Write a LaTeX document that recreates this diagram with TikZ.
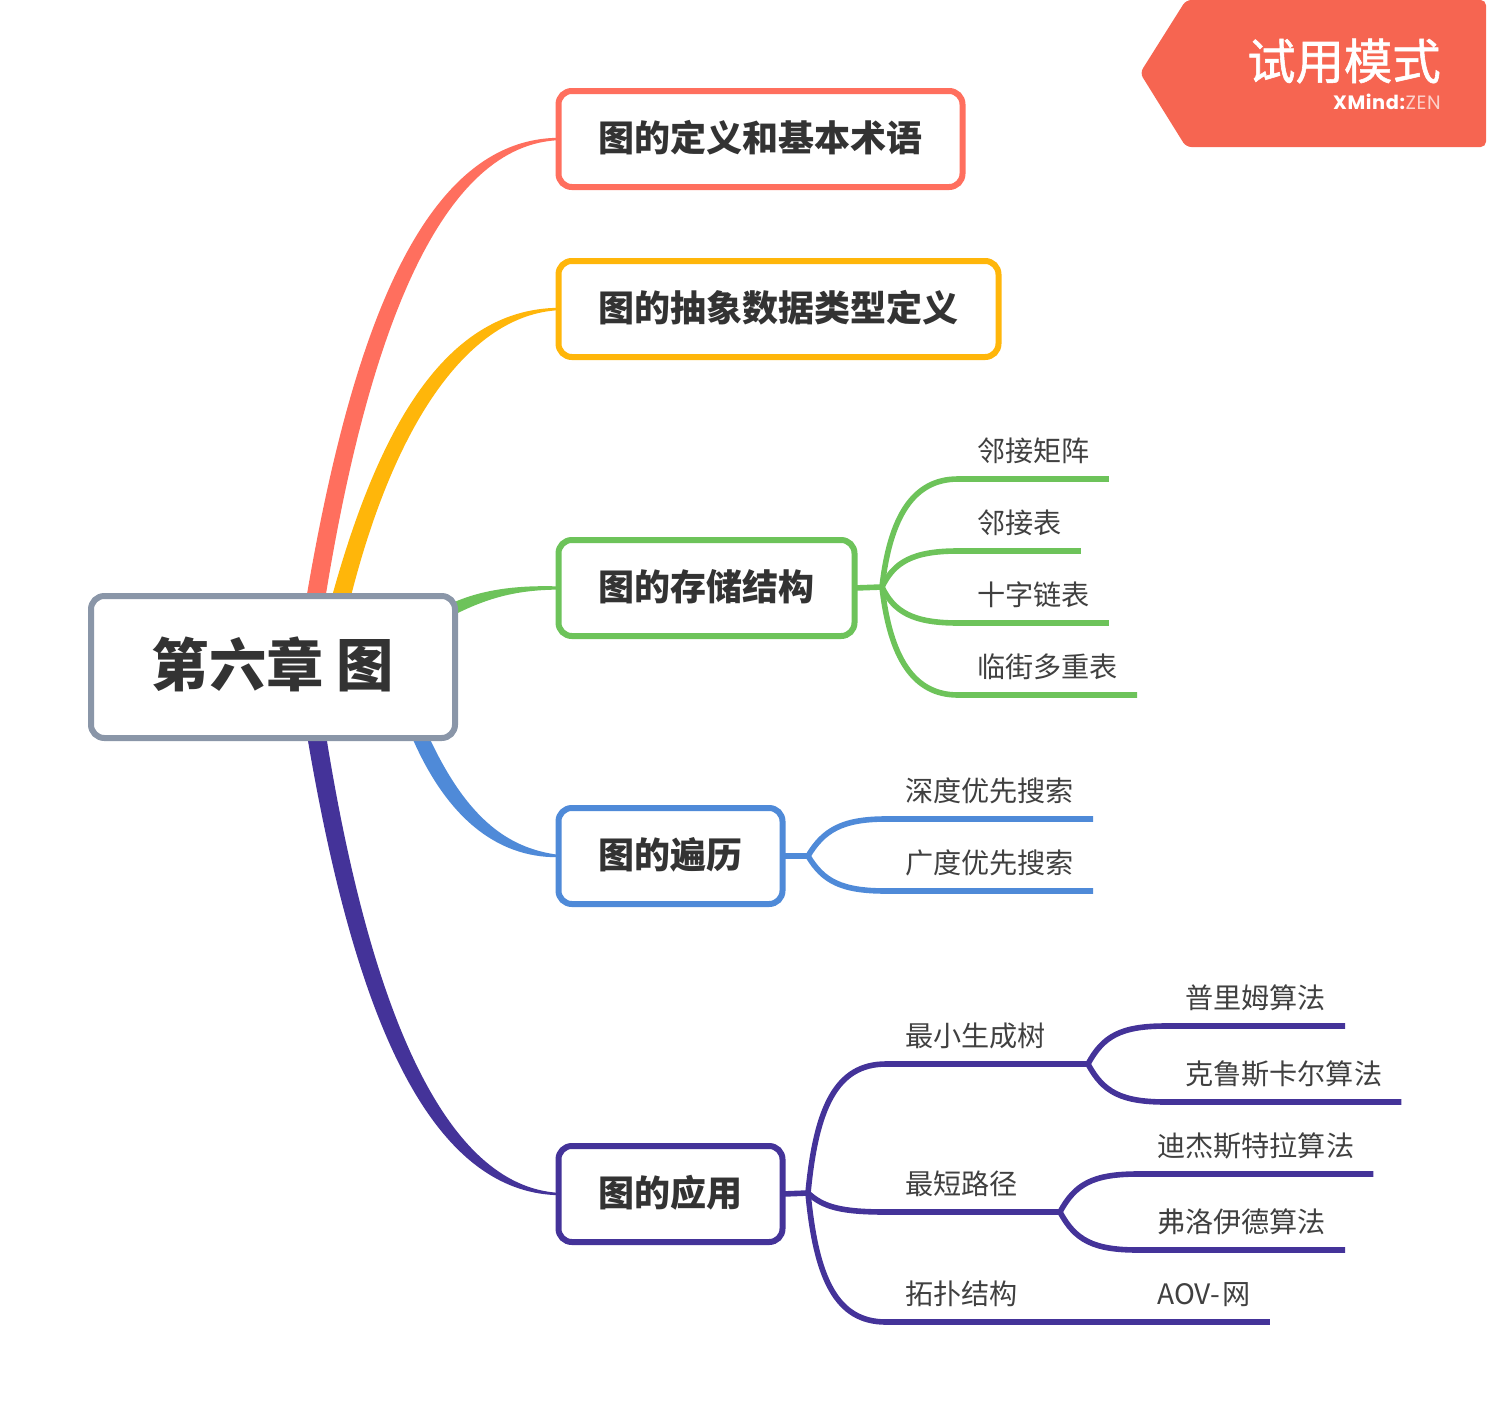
\documentclass[tikz,border=0pt]{standalone}
\usepackage{fontspec}
\setmainfont{Noto Sans CJK SC}
\newfontfamily\trialfont[FakeBold=1.2]{Noto Sans CJK SC}
\newfontfamily\markfont[LetterSpace=3]{Poppins}
\usetikzlibrary{backgrounds}
\definecolor{rootgray}{HTML}{8A96A8}
\definecolor{topicred}{HTML}{FF6F5E}
\definecolor{topicyellow}{HTML}{FFB60A}
\definecolor{topicgreen}{HTML}{6DC35A}
\definecolor{topicblue}{HTML}{4F8AD8}
\definecolor{topicpurple}{HTML}{443399}
\definecolor{trialred}{HTML}{F66551}
\tikzset{
	rootbox/.style={draw=rootgray, fill=white, line width=4.5pt, rounded corners=10pt, outer sep=0pt,
		minimum width=273pt, minimum height=106.5pt, text=black!80,
		font=\fontsize{43}{50}\selectfont\bfseries, text height=35.5pt, text depth=6.5pt},
	topicbox/.style={draw=#1, fill=white, line width=4.5pt, rounded corners=10pt, outer sep=0pt,
		anchor=west, inner xsep=30pt, minimum height=72pt, text=black!80,
		font=\fontsize{27}{32}\selectfont\bfseries, text height=22.5pt, text depth=4.5pt},
	leaf/.style={anchor=south west, outer sep=0pt, inner xsep=14.4pt, inner ysep=8pt,
		text=black!75, font=\fontsize{21.1}{25}\selectfont, text height=16pt, text depth=5pt},
	branch/.style={draw=#1, line width=4.2pt, line join=round},
}
\begin{document}
\begin{tikzpicture}[x=0.75pt, y=-0.75pt]
	\useasboundingbox ( 0, 0 ) rectangle ( 1487, 1413 );

	% trial mark
	\fill [trialred, rounded corners=4pt] ( 1186, 0 ) -- ( 1486, 0 ) -- ( 1486, 147 ) -- ( 1186, 147 ) -- ( 1140, 73 ) -- cycle;
	\node [anchor=east, inner sep=0pt, text=white, font=\trialfont\fontsize{36.3}{42}\selectfont] (trial) at ( 1441, 61 ) {试用模式};
	\node [anchor=east, inner sep=0pt, text=white, font=\markfont\fontsize{14.5}{16}\selectfont] (brand) at ( 1441, 102 ) {\textbf{XMind:}\textcolor{white!70!trialred}{ZEN}};

	% root and topics
	\node [rootbox] (root) at ( 273, 667 ) {第六章 图};
	\node [topicbox=topicred] (define) at ( 558.5, 139 ) {图的定义和基本术语};
	\node [topicbox=topicyellow] (adt) at ( 558.5, 309 ) {图的抽象数据类型定义};
	\node [topicbox=topicgreen] (store) at ( 558.5, 588 ) {图的存储结构};
	\node [topicbox=topicblue] (walk) at ( 558.5, 856 ) {图的遍历};
	\node [topicbox=topicpurple] (apply) at ( 558.5, 1194 ) {图的应用};

	% tapered branches
	\begin{scope}[on background layer]
		\fill [topicred] ( 306, 600 ) .. controls ( 350, 340 ) and ( 420, 139 ) .. ([yshift=0.9pt]define.west)
			-- ([yshift=-0.9pt]define.west) .. controls ( 445, 145 ) and ( 370, 320 ) .. ( 325, 600 ) -- cycle;
		\fill [topicyellow] ( 331, 600 ) .. controls ( 375, 440 ) and ( 440, 309 ) .. ([yshift=0.9pt]adt.west)
			-- ([yshift=-0.9pt]adt.west) .. controls ( 470, 315 ) and ( 395, 420 ) .. ( 350, 600 ) -- cycle;
		\fill [topicgreen] ( 450, 604 ) .. controls ( 480, 590 ) and ( 515, 585 ) .. ([yshift=1.2pt]store.west)
			-- ([yshift=-1.2pt]store.west) .. controls ( 520, 590 ) and ( 490, 596 ) .. ( 450, 617 ) -- cycle;
		\fill [topicblue] ( 411, 735 ) .. controls ( 445, 815 ) and ( 495, 858 ) .. ([yshift=-0.9pt]walk.west)
			-- ([yshift=0.9pt]walk.west) .. controls ( 505, 848 ) and ( 465, 815 ) .. ( 428, 735 ) -- cycle;
		\fill [topicpurple] ( 307, 735 ) .. controls ( 350, 990 ) and ( 420, 1192 ) .. ([yshift=-0.9pt]apply.west)
			-- ([yshift=0.9pt]apply.west) .. controls ( 445, 1186 ) and ( 370, 1010 ) .. ( 326, 735 ) -- cycle;
	\end{scope}

	% forks
	\coordinate (storefork) at ( 882, 587 );
	\coordinate (walkfork) at ( 808, 856 );
	\coordinate (applyfork) at ( 808, 1193 );
	\coordinate (treefork) at ( 1088, 1064 );
	\coordinate (pathfork) at ( 1060, 1212 );
	\coordinate (topofork) at ( 1060, 1322 );

	% storage
	\node [leaf] (matrix) at ( 958, 479 ) {邻接矩阵};
	\node [leaf] (adjlist) at ( 958, 551 ) {邻接表};
	\node [leaf] (cross) at ( 958, 623 ) {十字链表};
	\node [leaf] (multi) at ( 958, 695 ) {临街多重表};
	\draw [branch=topicgreen] (store.east) -- (storefork);
	\draw [branch=topicgreen] (storefork) .. controls +( 8, -70 ) and +( -45, 0 ) .. (matrix.south west) -- (matrix.south east);
	\draw [branch=topicgreen] (storefork) .. controls +( 12, -25 ) and +( -45, 0 ) .. (adjlist.south west) -- (adjlist.south east);
	\draw [branch=topicgreen] (storefork) .. controls +( 12, 25 ) and +( -45, 0 ) .. (cross.south west) -- (cross.south east);
	\draw [branch=topicgreen] (storefork) .. controls +( 8, 70 ) and +( -45, 0 ) .. (multi.south west) -- (multi.south east);

	% traversal
	\node [leaf] (dfs) at ( 886, 819 ) {深度优先搜索};
	\node [leaf] (bfs) at ( 886, 891 ) {广度优先搜索};
	\draw [branch=topicblue] (walk.east) -- (walkfork);
	\draw [branch=topicblue] (walkfork) .. controls +( 15, -25 ) and +( -45, 0 ) .. (dfs.south west) -- (dfs.south east);
	\draw [branch=topicblue] (walkfork) .. controls +( 15, 25 ) and +( -45, 0 ) .. (bfs.south west) -- (bfs.south east);

	% applications
	\node [leaf] (tree) at ( 886, 1064 ) {最小生成树};
	\node [leaf] (short) at ( 886, 1212 ) {最短路径};
	\node [leaf] (topo) at ( 886, 1322 ) {拓扑结构};
	\draw [branch=topicpurple] (apply.east) -- (applyfork);
	\draw [branch=topicpurple] (applyfork) .. controls +( 8, -85 ) and +( -50, 0 ) .. (tree.south west) -- (tree.south east) -- (treefork);
	\draw [branch=topicpurple] (applyfork) .. controls +( 15, 14 ) and +( -45, 0 ) .. (short.south west) -- (short.south east) -- (pathfork);
	\draw [branch=topicpurple] (applyfork) .. controls +( 8, 85 ) and +( -50, 0 ) .. (topo.south west) -- (topo.south east) -- (topofork);

	% algorithms
	\node [leaf] (prim) at ( 1166, 1026 ) {普里姆算法};
	\node [leaf] (kruskal) at ( 1166, 1102 ) {克鲁斯卡尔算法};
	\node [leaf] (dijkstra) at ( 1138, 1174 ) {迪杰斯特拉算法};
	\node [leaf] (floyd) at ( 1138, 1250 ) {弗洛伊德算法};
	\node [leaf] (aov) at ( 1138, 1322 ) {AOV-\kern2pt 网};
	\draw [branch=topicpurple] (treefork) .. controls +( 15, -28 ) and +( -45, 0 ) .. (prim.south west) -- (prim.south east);
	\draw [branch=topicpurple] (treefork) .. controls +( 15, 28 ) and +( -45, 0 ) .. (kruskal.south west) -- (kruskal.south east);
	\draw [branch=topicpurple] (pathfork) .. controls +( 15, -28 ) and +( -45, 0 ) .. (dijkstra.south west) -- (dijkstra.south east);
	\draw [branch=topicpurple] (pathfork) .. controls +( 15, 28 ) and +( -45, 0 ) .. (floyd.south west) -- (floyd.south east);
	\draw [branch=topicpurple] (topofork) -- (aov.south west) -- (aov.south east);
\end{tikzpicture}
\end{document}
